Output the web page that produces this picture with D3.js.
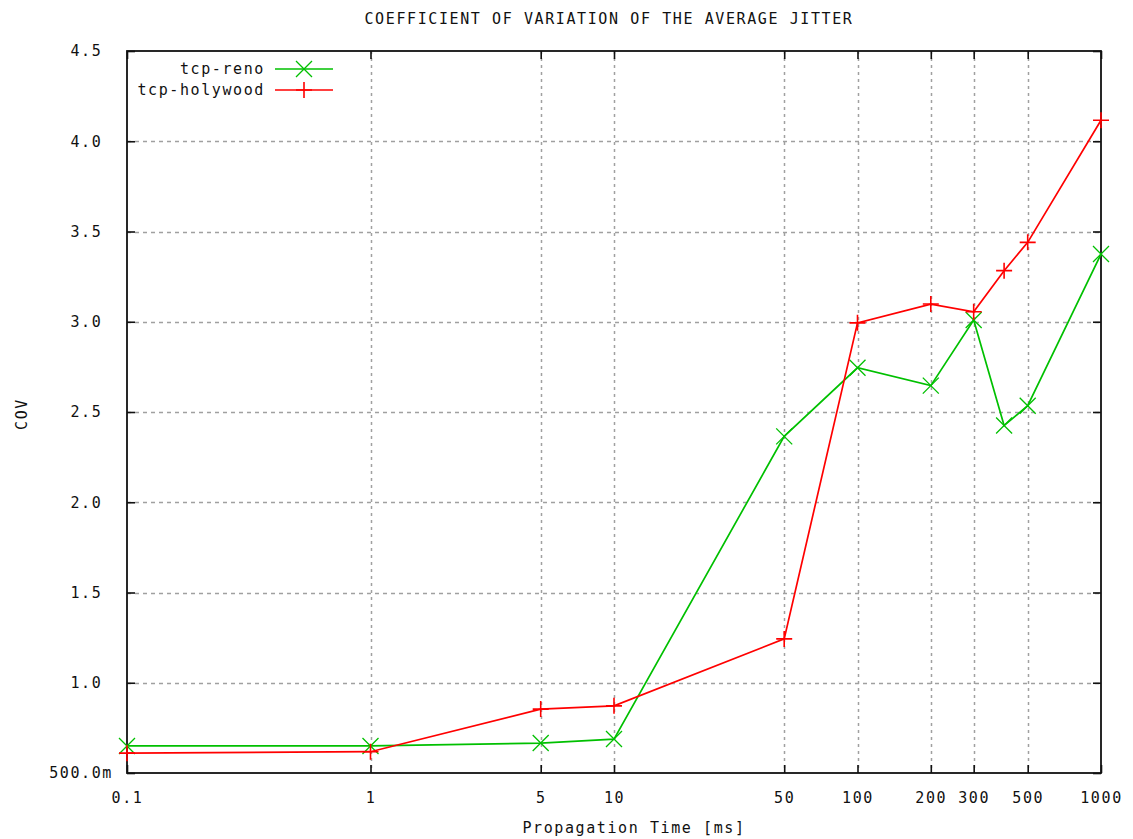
<!DOCTYPE html>
<html>
<head>
<meta charset="utf-8">
<script src="https://cdn.jsdelivr.net/npm/d3@7"></script>
<style>
  html, body { margin: 0; padding: 0; background: #fff; }
  svg text { font-family: "DejaVu Sans Mono", "Liberation Mono", monospace; font-size: 15px; letter-spacing: 1.6px; fill: #111; white-space: pre; }
</style>
</head>
<body>
<svg id="chart" width="1133" height="839"></svg>
<script>
// Propagation times (ms) at which each run was measured
const propagationMs = [0.1, 1, 5, 10, 50, 100, 200, 300, 400, 500, 1000];

// Coefficient of variation of the average jitter per protocol
const tcpReno     = [0.650, 0.650, 0.666, 0.688, 2.365, 2.745, 2.646, 3.010, 2.425, 2.535, 3.375];
const tcpHolywood = [0.610, 0.618, 0.854, 0.872, 1.243, 2.994, 3.098, 3.055, 3.283, 3.440, 4.116];

// Axis ticks
const xTicks = [0.1, 1, 5, 10, 50, 100, 200, 300, 500, 1000];
const xTickLabels = ["0.1", "1", "5", "10", "50", "100", "200", "300", "500", "1000"];
const yTicks = [0.5, 1.0, 1.5, 2.0, 2.5, 3.0, 3.5, 4.0, 4.5];
const yTickLabels = ["500.0m", "1.0 ", "1.5 ", "2.0 ", "2.5 ", "3.0 ", "3.5 ", "4.0 ", "4.5 "];

const seriesNames = ["tcp-reno", "tcp-holywood"];
const seriesColors = ["#00c000", "#ff0000"];

const svg = d3.select("#chart");
const plotLeft = 127, plotRight = 1101, plotTop = 51, plotBottom = 773;

const x = d3.scaleLog().domain([0.1, 1000]).range([plotLeft, plotRight]);
const y = d3.scaleLinear().domain([0.5, 4.5]).range([plotBottom, plotTop]);

// Grid
const grid = svg.append("g").attr("stroke", "#a0a0a0").attr("stroke-width", 1.5);
grid.selectAll("line.gx").data(xTicks.slice(1, -1)).join("line")
  .attr("x1", d => Math.round(x(d)) + 0.5).attr("x2", d => Math.round(x(d)) + 0.5)
  .attr("y1", plotTop).attr("y2", plotBottom)
  .attr("stroke-dasharray", "3,4");
grid.selectAll("line.gy").data(yTicks.slice(1, -1)).join("line")
  .attr("x1", plotLeft).attr("x2", plotRight)
  .attr("y1", d => Math.round(y(d)) + 0.5).attr("y2", d => Math.round(y(d)) + 0.5)
  .attr("stroke-dasharray", "4,4");

// Axes with inward ticks on all four sides
function styleAxis(g) {
  g.select(".domain").remove();
  g.selectAll(".tick line").attr("stroke", "#111").attr("stroke-width", 1.6);
  g.selectAll(".tick text").attr("font-family", null).attr("font-size", null).attr("fill", "#111");
}
svg.append("g").attr("transform", `translate(0,${plotBottom})`)
  .call(d3.axisBottom(x).tickValues(xTicks).tickSize(-8).tickPadding(19)
    .tickFormat((d, i) => xTickLabels[i]))
  .call(styleAxis);
svg.append("g").attr("transform", `translate(0,${plotTop})`)
  .call(d3.axisTop(x).tickValues(xTicks).tickSize(-8).tickFormat(""))
  .call(styleAxis);
svg.append("g").attr("transform", `translate(${plotLeft},0)`)
  .call(d3.axisLeft(y).tickValues(yTicks).tickSize(-8).tickPadding(14)
    .tickFormat((d, i) => yTickLabels[i]))
  .call(styleAxis);
svg.append("g").attr("transform", `translate(${plotRight},0)`)
  .call(d3.axisRight(y).tickValues(yTicks).tickSize(-8).tickFormat(""))
  .call(styleAxis);

// Frame
svg.append("rect").attr("x", plotLeft).attr("y", plotTop)
  .attr("width", plotRight - plotLeft).attr("height", plotBottom - plotTop)
  .attr("fill", "none").attr("stroke", "#111").attr("stroke-width", 1.8);

// Markers
function crossMarker(g, cx, cy, color) {
  const s = 8;
  g.append("path").attr("d", `M${cx - s},${cy - s}L${cx + s},${cy + s}M${cx - s},${cy + s}L${cx + s},${cy - s}`)
    .attr("stroke", color).attr("stroke-width", 1.3).attr("fill", "none");
}
function plusMarker(g, cx, cy, color) {
  const s = 8;
  g.append("path").attr("d", `M${cx - s},${cy}L${cx + s},${cy}M${cx},${cy - s}L${cx},${cy + s}`)
    .attr("stroke", color).attr("stroke-width", 1.6).attr("fill", "none");
}
const markerFns = [crossMarker, plusMarker];

const line = d3.line().x(d => x(d[0])).y(d => y(d[1]));
[tcpReno, tcpHolywood].forEach((vals, si) => {
  const pts = propagationMs.map((p, i) => [p, vals[i]]);
  const g = svg.append("g");
  g.append("path").datum(pts).attr("d", line)
    .attr("fill", "none").attr("stroke", seriesColors[si]).attr("stroke-width", 1.7);
  pts.forEach(p => markerFns[si](g, x(p[0]), y(p[1]), seriesColors[si]));
});

// Legend
const legendY = [69, 90];
seriesNames.forEach((name, i) => {
  svg.append("text").attr("x", 265).attr("y", legendY[i]).attr("dy", "0.35em")
    .attr("text-anchor", "end").text(name);
  svg.append("line").attr("x1", 275).attr("x2", 333).attr("y1", legendY[i]).attr("y2", legendY[i])
    .attr("stroke", seriesColors[i]).attr("stroke-width", 1.7);
  markerFns[i](svg, 304, legendY[i], seriesColors[i]);
});

// Title and axis labels
svg.append("text").attr("x", 609).attr("y", 19).attr("dy", "0.35em")
  .attr("text-anchor", "middle").text("COEFFICIENT OF VARIATION OF THE AVERAGE JITTER");
svg.append("text").attr("x", 634).attr("y", 828).attr("dy", "0.35em")
  .attr("text-anchor", "middle").text("Propagation Time [ms]");
svg.append("text").attr("transform", "translate(22,414) rotate(-90)").attr("dy", "0.35em")
  .attr("text-anchor", "middle").text("COV");
</script>
</body>
</html>
